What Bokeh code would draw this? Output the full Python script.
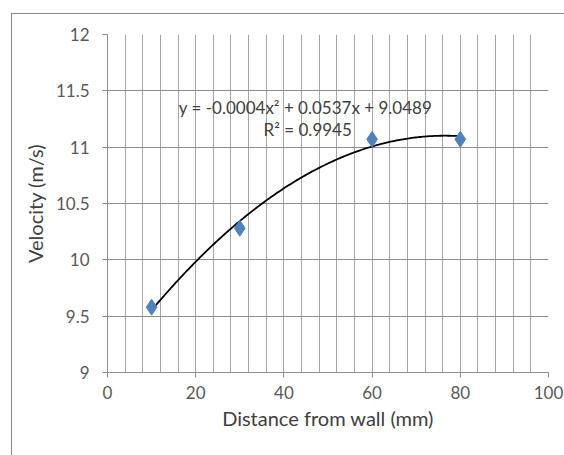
import numpy as np
from bokeh.plotting import figure
from bokeh.models import FixedTicker, Range1d, Label
from bokeh.embed import file_html
from bokeh.resources import INLINE

distance_mm = [10, 30, 60, 80]
velocity_ms = [9.58, 10.28, 11.07, 11.07]
x_ticks = [0, 20, 40, 60, 80, 100]
y_ticks = [9, 9.5, 10, 10.5, 11, 11.5, 12]
equation_text = "y = -0.0004x\u00b2 + 0.0537x + 9.0489"
r2_text = "R\u00b2 = 0.9945"

FONT = "Lato"

p = figure(width=553, height=442, output_backend="svg", toolbar_location=None,
           x_range=Range1d(0, 100), y_range=Range1d(9, 12),
           min_border_left=95, min_border_right=17, min_border_top=20, min_border_bottom=84,
           margin=(13, 0, 0, 11),
           styles={"border-left": "1px solid #8a8a8a", "border-top": "1px solid #8a8a8a"})
p.outline_line_color = None
p.background_fill_color = "white"
p.border_fill_color = "white"

# grids
p.xgrid.ticker = FixedTicker(ticks=list(range(0, 101, 4)))
p.xgrid.grid_line_color = "#a6a6a6"
p.xgrid.grid_line_width = 1
p.ygrid.ticker = FixedTicker(ticks=y_ticks)
p.ygrid.grid_line_color = "#8c8c8c"
p.ygrid.grid_line_width = 1

# axes
p.xaxis.ticker = FixedTicker(ticks=x_ticks)
p.yaxis.ticker = FixedTicker(ticks=y_ticks)
p.yaxis.major_label_overrides = {9: "9", 9.5: "9.5", 10: "10", 10.5: "10.5", 11: "11", 11.5: "11.5", 12: "12"}
for ax in (p.xaxis[0], p.yaxis[0]):
    ax.axis_line_color = "#8c8c8c"
    ax.major_tick_line_color = "#8c8c8c"
    ax.minor_tick_line_color = None
    ax.major_tick_out = 5
    ax.major_tick_in = 0
    ax.major_label_text_font = FONT
    ax.major_label_text_font_size = "17px"
    ax.major_label_text_color = "#595959"
    ax.axis_label_text_font = FONT
    ax.axis_label_text_font_size = "20px"
    ax.axis_label_text_font_style = "normal"
    ax.axis_label_text_color = "#404040"
p.xaxis.axis_label = "Distance from wall (mm)"
p.yaxis.axis_label = "Velocity (m/s)"
p.xaxis.major_label_standoff = 8
p.yaxis.major_label_standoff = 13
p.xaxis.axis_label_standoff = 4
p.yaxis.axis_label_standoff = 6

# trendline: 2nd order polynomial fit of the data
coef = np.polyfit(distance_mm, velocity_ms, 2)
xs = np.linspace(min(distance_mm), max(distance_mm), 200)
p.line(xs, np.polyval(coef, xs), line_color="black", line_width=1.8)

# data points
p.scatter(distance_mm, velocity_ms, marker="diamond", size=16,
          fill_color="#4F81BD", line_color="#4F81BD")

p.add_layout(Label(x=44.9, y=11.35, text=equation_text, text_align="center", text_baseline="middle",
                   text_font=FONT, text_font_size="17px", text_color="#404040"))
p.add_layout(Label(x=45.4, y=11.16, text=r2_text, text_align="center", text_baseline="middle",
                   text_font=FONT, text_font_size="17px", text_color="#404040"))

open("out.html", "w").write(file_html(p, INLINE))
